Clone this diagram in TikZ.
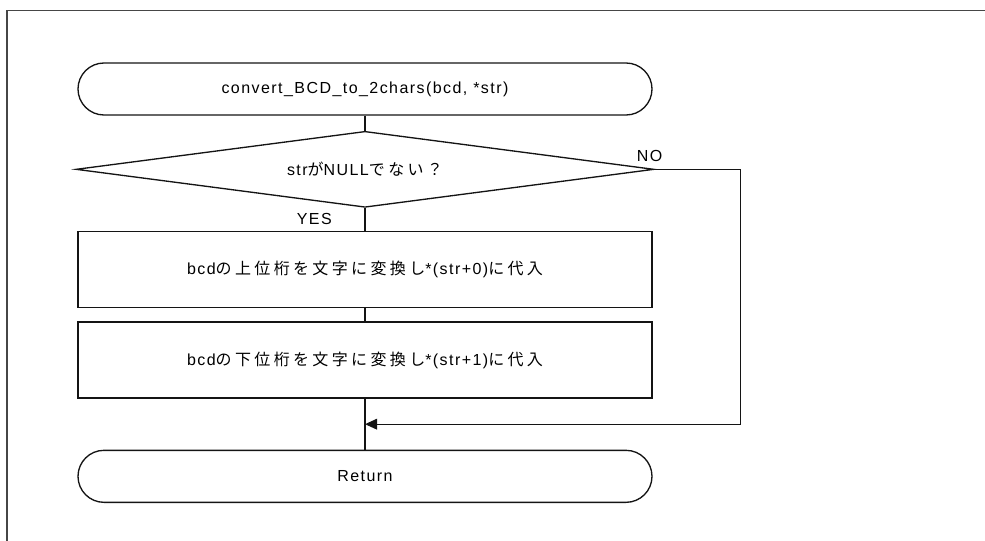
\documentclass[tikz,border=0pt]{standalone}
\usepackage{fontspec}
\setmainfont[LetterSpace=9]{Liberation Sans}
\newfontfamily\jpfont[LetterSpace=21]{Noto Sans CJK JP}
\newcommand{\jp}[1]{{\jpfont #1}}
\usepackage{tikz}
\usetikzlibrary{shapes.geometric, arrows.meta, positioning, calc}
\definecolor{frameColor}{RGB}{70, 70, 70}
\definecolor{lineColor}{RGB}{20, 20, 20}

\begin{document}
\begin{tikzpicture}[
    x=0.75pt, y=-0.75pt,
    flow/.style={draw=lineColor, line width=1pt, font=\fontsize{12pt}{14pt}\selectfont, align=center, inner sep=0pt},
    term/.style={flow, rectangle, rounded corners=19.5pt, minimum width=430.5pt, minimum height=39pt},
    decision/.style={flow, diamond, aspect=7.6, minimum width=433.5pt, minimum height=57pt},
    proc/.style={flow, rectangle, minimum width=430.5pt, minimum height=57pt},
    link/.style={draw=lineColor, line width=1pt},
    arrow/.style={link, -{Triangle[length=9pt, width=8pt]}},
    lbl/.style={font=\fontsize{12pt}{14pt}\selectfont, inner sep=0pt}
]
    \useasboundingbox (0,0) rectangle (985,541);

    % Frame
    \draw[frameColor, line width=0.8pt] (7,541) -- (7,10.5) -- (985,10.5);

    % Start
    \node[term] (start) at (365,89) {convert\_BCD\_to\_2chars(bcd, *str)};

    % Check
    \node[decision, below=11.25pt of start] (check) {str\jp{が}NULL\jp{でない？}};

    % Conversion steps
    \node[proc, below=17.25pt of check] (upper) {bcd\jp{の上位桁を文字に変換し}*(str+0)\jp{に代入}};
    \node[proc, below=9.75pt of upper] (lower) {bcd\jp{の下位桁を文字に変換し}*(str+1)\jp{に代入}};

    % End
    \node[term, below=38.25pt of lower] (ret) {Return};

    % Branch labels
    \node[lbl, anchor=east] (yes) at ($(check.south)+(-33,11)$) {YES};
    \node[lbl] (no) at ($(check.east)+(-5,-13)$) {NO};

    % Helper points
    \coordinate (merge) at ($(lower.south)!0.5!(ret.north)$);
    \coordinate (nocorner) at ($(check.east)+(86,0)$);

    % Connectors
    \draw[link] (start) -- (check);
    \draw[link] (check) -- (upper);
    \draw[link] (upper) -- (lower);
    \draw[link] (lower) -- (ret);
    \draw[arrow] (check.east) -- (nocorner) |- (merge);

\end{tikzpicture}
\end{document}
